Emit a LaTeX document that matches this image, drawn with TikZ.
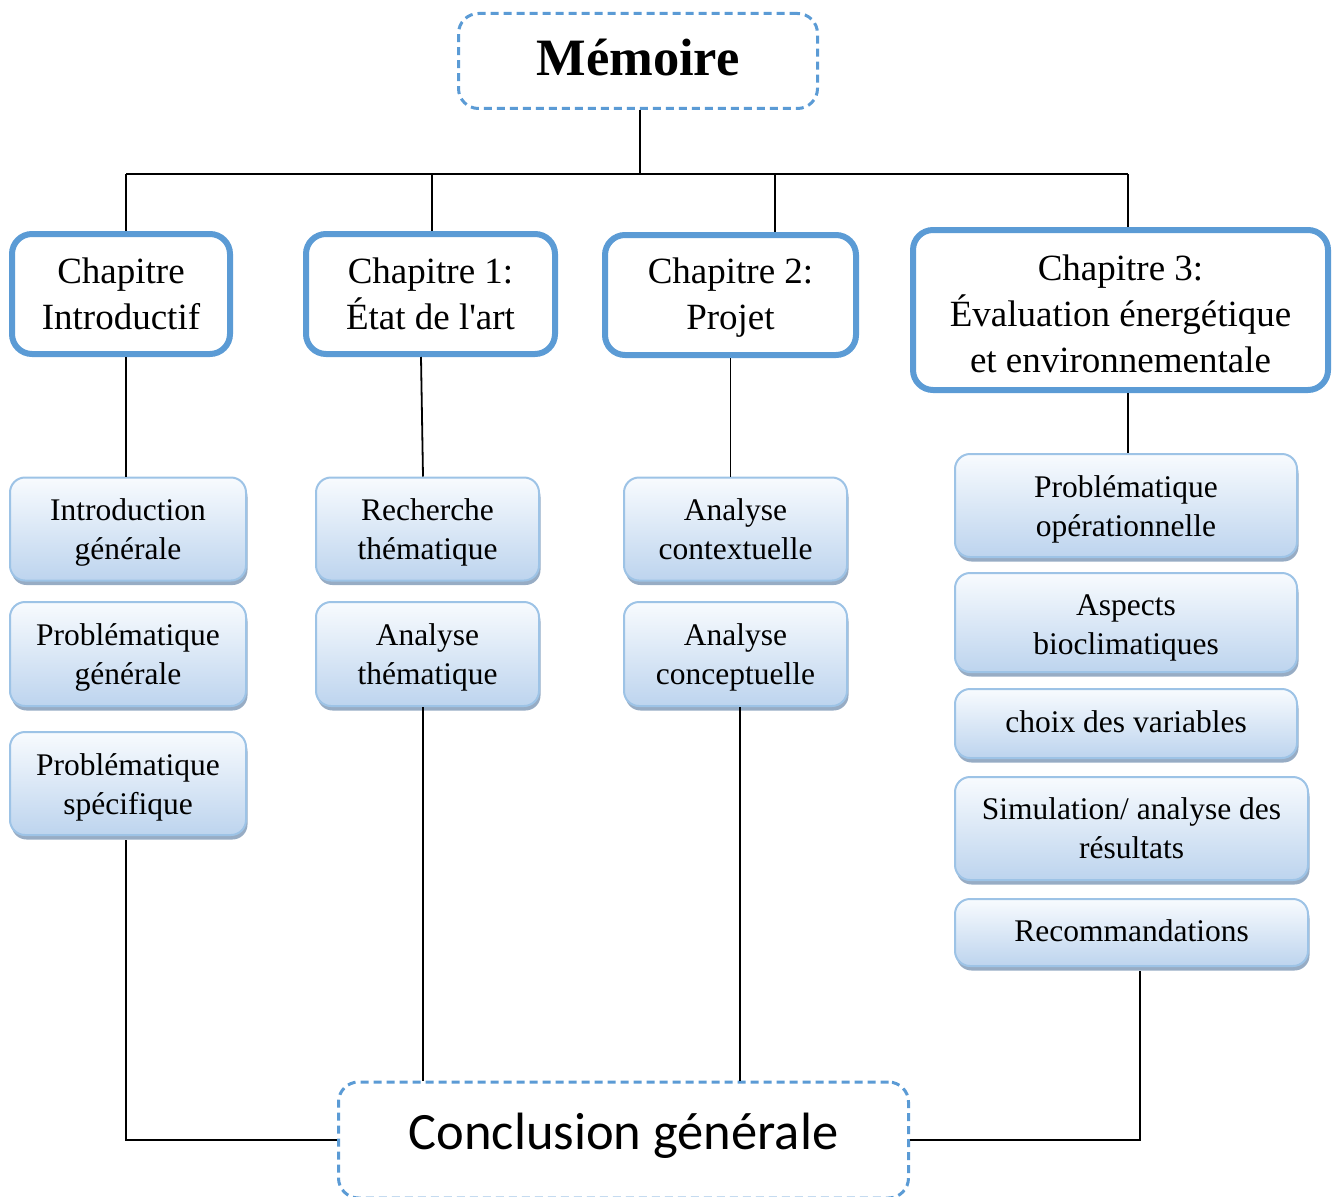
\documentclass[tikz,border=0pt]{standalone}
\usepackage{fontspec}
\setmainfont{Liberation Serif}
\newfontfamily\carlitofont{Carlito}
\usetikzlibrary{shadows}
\definecolor{dblue}{HTML}{5B9BD5}
\definecolor{lblue}{HTML}{9DC3E6}
\definecolor{gtop}{HTML}{F8FBFE}
\definecolor{gbot}{HTML}{BDD4EE}
\definecolor{shad}{HTML}{8CA3BE}
\newcommand{\shiftup}[2]{\raisebox{#1}[\height][\depth]{#2}}
\begin{document}
\begin{tikzpicture}[x=1pt,y=-1pt,
 dashbox/.style={draw=dblue, line width=3pt, dash pattern=on 8pt off 5pt, rounded corners=20pt, fill=white, align=center, inner sep=0pt},
 chapbox/.style={draw=dblue, line width=6pt, rounded corners=20pt, fill=white, align=center, font=\fontsize{37}{46}\selectfont, inner sep=0pt},
 subbox/.style={draw=lblue, line width=2pt, rounded corners=15pt, top color=gtop, bottom color=gbot, align=center, font=\fontsize{31.5}{39}\selectfont, inner sep=0pt, drop shadow={shadow xshift=1.5pt, shadow yshift=-4.5pt, fill=shad, opacity=0.9}},
 link/.style={draw=black, line width=1.8pt}
]
\useasboundingbox (0,0) rectangle (1340,1196);

% top box
\node[dashbox, minimum width=359pt, minimum height=95pt, font=\fontsize{52.5}{60}\selectfont\bfseries] (mem) at (638,61) {\shiftup{3pt}{Mémoire}};

% chapter boxes
\node[chapbox, minimum width=218pt, minimum height=120pt] (c0) at (121,294) {\parbox{200pt}{\centering Chapitre\\Introductif}};
\node[chapbox, minimum width=249pt, minimum height=120pt] (c1) at (430.5,294) {\parbox{240pt}{\centering Chapitre 1:\\État de l\textquotesingle art}};
\node[chapbox, minimum width=251pt, minimum height=120pt] (c2) at (730.5,295) {\shiftup{-3pt}{\parbox{240pt}{\centering Chapitre 2:\\Projet}}};
\node[chapbox, minimum width=415pt, minimum height=160pt] (c3) at (1120.5,310) {\shiftup{-4pt}{\parbox{400pt}{\centering Chapitre 3:\\Évaluation énergétique\\et environnementale}}};

% sub boxes column 1
\node[subbox, minimum width=236pt, minimum height=103pt] (i1) at (128,529) {\shiftup{-3pt}{\parbox{230pt}{\centering Introduction\\générale}}};
\node[subbox, minimum width=236pt, minimum height=104pt] (i2) at (128,654) {\shiftup{-3pt}{\parbox{230pt}{\centering Problématique\\générale}}};
\node[subbox, minimum width=236pt, minimum height=103pt] (i3) at (128,783.5) {\shiftup{-3.5pt}{\parbox{230pt}{\centering Problématique\\spécifique}}};

% column 2
\node[subbox, minimum width=223pt, minimum height=103pt] (r1) at (427.5,529) {\shiftup{-3pt}{\parbox{220pt}{\centering Recherche\\thématique}}};
\node[subbox, minimum width=223pt, minimum height=104pt] (r2) at (427.5,654) {\shiftup{-3pt}{\parbox{220pt}{\centering Analyse\\thématique}}};

% column 3
\node[subbox, minimum width=223pt, minimum height=103pt] (a1) at (735.5,529) {\parbox{220pt}{\centering Analyse\\contextuelle}};
\node[subbox, minimum width=223pt, minimum height=104pt] (a2) at (735.5,654) {\shiftup{-3pt}{\parbox{220pt}{\centering Analyse\\conceptuelle}}};

% column 4
\node[subbox, minimum width=342pt, minimum height=103pt] (e1) at (1126,505.5) {\shiftup{-4pt}{\parbox{330pt}{\centering Problématique\\opérationnelle}}};
\node[subbox, minimum width=342pt, minimum height=99pt] (e2) at (1126,622.5) {\shiftup{-5pt}{\parbox{330pt}{\centering Aspects\\bioclimatiques}}};
\node[subbox, minimum width=342pt, minimum height=69pt] (e3) at (1126,723.5) {\shiftup{2pt}{choix des variables}};
\node[subbox, minimum width=353pt, minimum height=103pt] (e4) at (1131.5,828.5) {\parbox{345pt}{\centering Simulation/ analyse des\\résultats}};
\node[subbox, minimum width=353pt, minimum height=67pt] (e5) at (1131.5,932.5) {\shiftup{2pt}{Recommandations}};

% conclusion
\node[dashbox, minimum width=570pt, minimum height=116pt, font=\carlitofont\fontsize{52.5}{60}\selectfont] (conc) at (623.5,1140) {\shiftup{4.5pt}{Conclusion générale}};

% tree connectors
\coordinate (b0) at (126,174);
\coordinate (b1) at (432,174);
\coordinate (b2) at (775,174);
\coordinate (b3) at (1128,174);
\draw[link] ([xshift=2pt]mem.south) -- ([xshift=2pt]mem.south |- b0);
\draw[link] (b0) -- (b3);
\draw[link] (b0) -- (b0 |- c0.north);
\draw[link] (b1) -- (b1 |- c1.north);
\draw[link] (b2) -- (b2 |- c2.north);
\draw[link] (b3) -- (b3 |- c3.north);

% chapter to first sub box
\draw[link] ([xshift=5pt]c0.south) -- ([xshift=-2pt]i1.north);
\draw[link] ([xshift=-9.5pt]c1.south) -- ([xshift=-4.5pt]r1.north);
\draw[link] (c2.south) -- ([xshift=-5pt]a1.north);
\draw[link] ([xshift=7.5pt]c3.south) -- ([xshift=2pt]e1.north);

% last sub boxes to conclusion
\draw[link] ([xshift=-2pt,yshift=-4pt]i3.south) |- (conc.west);
\draw[link] ([xshift=-4.5pt]r2.south) -- ([xshift=-4.5pt]r2.south |- conc.north);
\draw[link] ([xshift=4.5pt]a2.south) -- ([xshift=4.5pt]a2.south |- conc.north);
\draw[link] ([xshift=8.5pt,yshift=-4pt]e5.south) |- (conc.east);
\end{tikzpicture}
\end{document}
